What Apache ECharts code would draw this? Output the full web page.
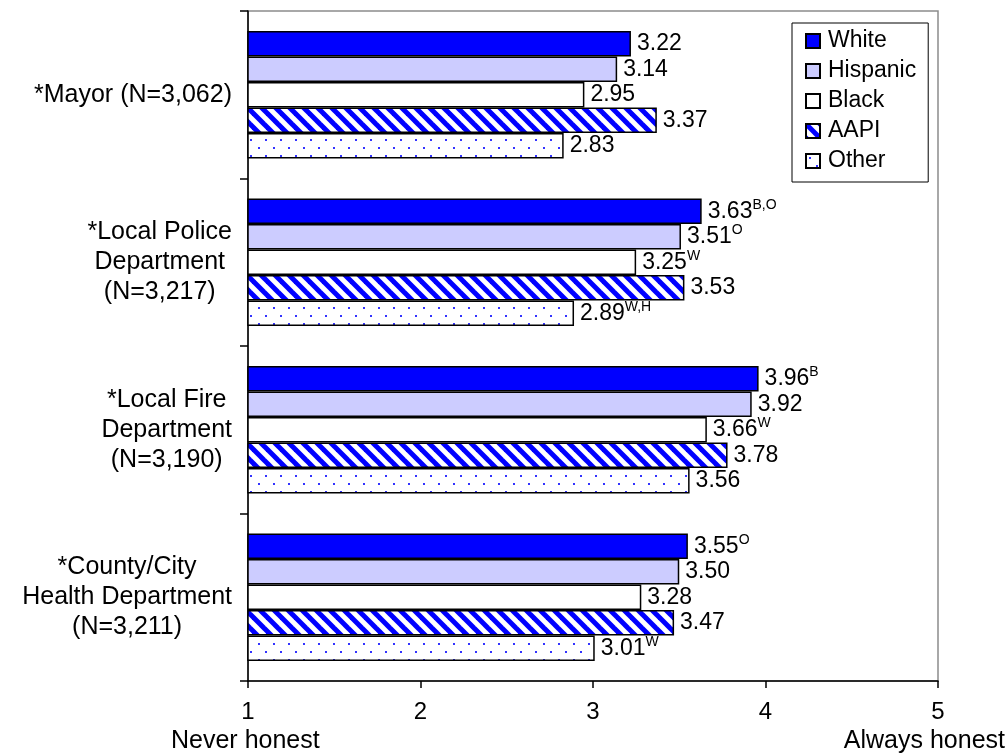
<!DOCTYPE html>
<html>
<head>
<meta charset="utf-8">
<script src="https://cdn.jsdelivr.net/npm/echarts@6/dist/echarts.min.js"></script>
<style>
html,body{margin:0;padding:0;background:#fff;}
#chart{width:1008px;height:753px;}
</style>
</head>
<body>
<div id="chart"></div>
<script>
// ---- data ----
var categories = [
  '*Mayor (N=3,062)',
  '*Local Police\nDepartment\n(N=3,217)',
  '*Local Fire\nDepartment\n(N=3,190)',
  '*County/City\nHealth Department\n(N=3,211)'
];
var seriesNames = ['White', 'Hispanic', 'Black', 'AAPI', 'Other'];
var whiteVals    = [3.22, 3.63, 3.96, 3.55];
var hispanicVals = [3.14, 3.51, 3.92, 3.50];
var blackVals    = [2.95, 3.25, 3.66, 3.28];
var aapiVals     = [3.37, 3.53, 3.78, 3.47];
var otherVals    = [2.83, 2.89, 3.56, 3.01];
var whiteSup    = ['', 'B,O', 'B', 'O'];
var hispanicSup = ['', 'O', '', ''];
var blackSup    = ['', 'W', 'W', ''];
var aapiSup     = ['', '', '', ''];
var otherSup    = ['', 'W,H', '', 'W'];
var xTicks = [1, 2, 3, 4, 5];
var xEndLabels = ['Never honest', 'Always honest'];

// ---- patterns ----
function stripeCanvas() {
  var p = 14;
  var c = document.createElement('canvas');
  c.width = p; c.height = p;
  var g = c.getContext('2d');
  g.fillStyle = '#fff'; g.fillRect(0, 0, p, p);
  g.strokeStyle = '#0000ff'; g.lineWidth = 5;
  for (var k = -1; k <= 1; k++) {
    g.beginPath(); g.moveTo(k * p - 2, -2); g.lineTo(k * p + p + 2, p + 2); g.stroke();
  }
  return c;
}
function dotCanvas() {
  var c = document.createElement('canvas');
  c.width = 15; c.height = 16;
  var g = c.getContext('2d');
  g.fillStyle = '#fff'; g.fillRect(0, 0, 15, 16);
  g.fillStyle = '#3333ff';
  g.fillRect(3, 3, 2, 2);
  g.fillRect(10, 11, 2, 2);
  return c;
}

var FONT = '"Liberation Sans", Arial, sans-serif';
var vals = [whiteVals, hispanicVals, blackVals, aapiVals, otherVals];
var sups = [whiteSup, hispanicSup, blackSup, aapiSup, otherSup];
var fills = ['#0000ff', '#ccccff', '#ffffff',
  {image: stripeCanvas(), repeat: 'repeat'},
  {image: dotCanvas(), repeat: 'repeat'}];

var series = seriesNames.map(function (name, i) {
  return {
    name: name,
    type: 'bar',
    data: vals[i],
    barGap: '0%',
    barCategoryGap: '24%',
    itemStyle: {color: fills[i], borderColor: '#000', borderWidth: 1.5},
    label: {
      show: true,
      position: 'right',
      distance: 6,
      formatter: function (p) {
        var s = sups[p.seriesIndex][p.dataIndex];
        return '{v|' + p.value.toFixed(2) + '}' + (s ? '{s|' + s + '}' : '');
      },
      rich: {
        v: {fontFamily: FONT, fontSize: 23, color: '#000', lineHeight: 27},
        s: {fontFamily: FONT, fontSize: 14, color: '#000', verticalAlign: 'top', lineHeight: 14}
      }
    },
    animation: false
  };
});

var chart = echarts.init(document.getElementById('chart'), null, {renderer: 'canvas'});
chart.setOption({
  animation: false,
  backgroundColor: '#fff',
  grid: {
    left: 248, right: 70, top: 11, bottom: 72,
    show: true, borderColor: '#8c8c8c', borderWidth: 1.5,
    containLabel: false, outerBoundsMode: 'none'
  },
  legend: {
    data: seriesNames,
    orient: 'vertical',
    left: 792, top: 23,
    padding: [6, 12, 9, 13],
    borderColor: '#000', borderWidth: 1,
    backgroundColor: '#fff',
    itemWidth: 14, itemHeight: 14, itemGap: 6,
    icon: 'rect',
    textStyle: {fontFamily: FONT, fontSize: 23, color: '#000', lineHeight: 24, padding: [0, 0, 0, 3]}
  },
  xAxis: {
    type: 'value',
    min: xTicks[0], max: xTicks[xTicks.length - 1], interval: 1,
    axisLine: {show: true, lineStyle: {color: '#000', width: 1.5}},
    axisTick: {show: true, length: 7, lineStyle: {color: '#000', width: 1.5}},
    splitLine: {show: false},
    axisLabel: {fontFamily: FONT, fontSize: 24, color: '#000', margin: 19}
  },
  yAxis: {
    type: 'category',
    inverse: true,
    data: categories,
    axisLine: {show: true, lineStyle: {color: '#000', width: 1.5}},
    axisTick: {show: true, length: 8, lineStyle: {color: '#000', width: 1.5}},
    axisLabel: {
      margin: 16,
      formatter: function (v) {
        return v.split('\n').map(function (l) { return '{c|' + l + '}'; }).join('\n');
      },
      rich: {c: {fontFamily: FONT, fontSize: 25, color: '#000', lineHeight: 30, align: 'center'}}
    }
  },
  graphic: [
    {type: 'text', left: 171, top: 729, style: {text: xEndLabels[0], font: '25px ' + FONT, fill: '#000'}},
    {type: 'text', right: 3, top: 729, style: {text: xEndLabels[1], font: '25px ' + FONT, fill: '#000'}}
  ],
  series: series
});
</script>
</body>
</html>
